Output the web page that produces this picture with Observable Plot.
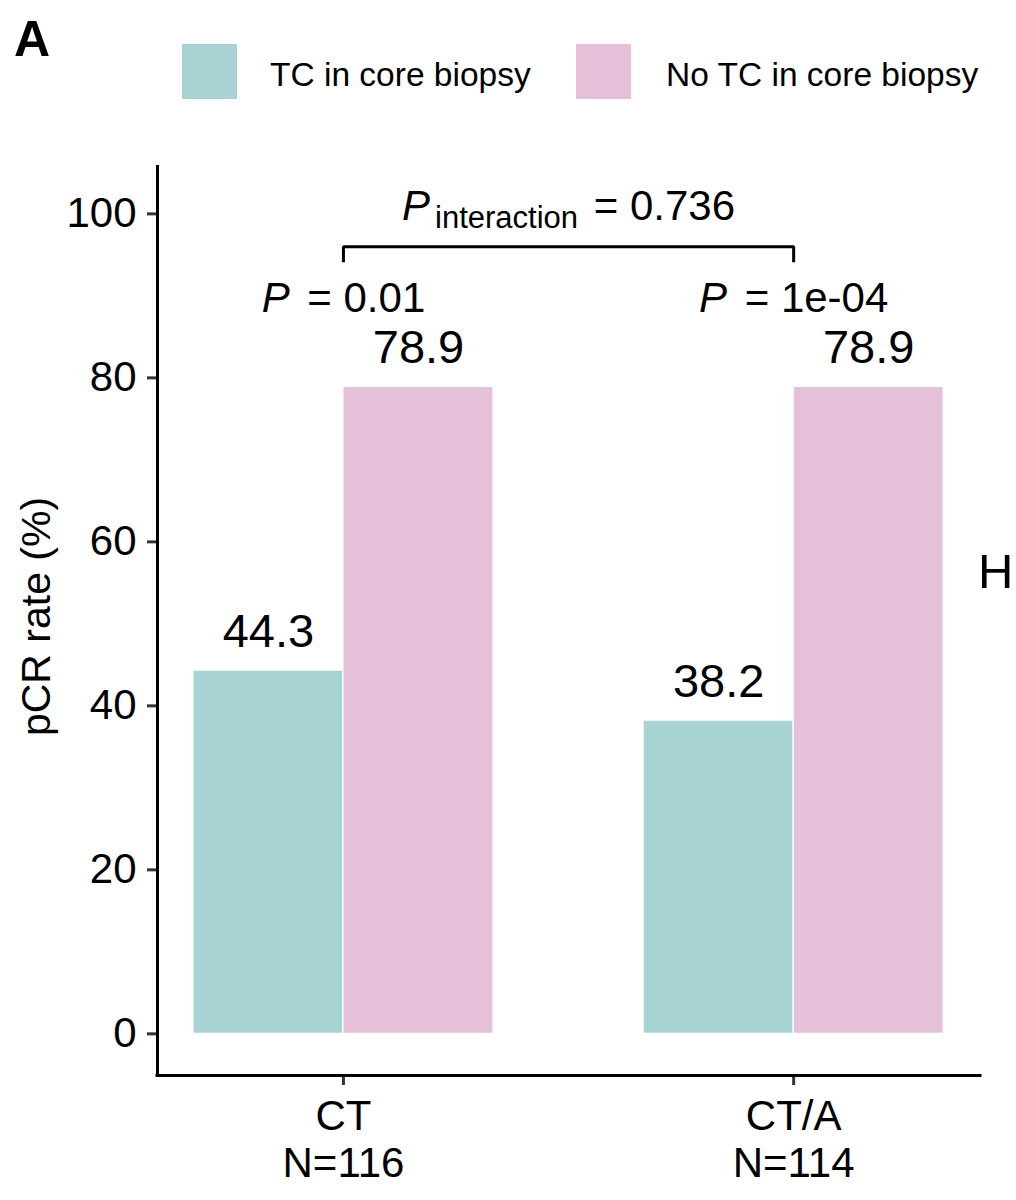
<!DOCTYPE html>
<html>
<head>
<meta charset="utf-8">
<script src="https://cdn.jsdelivr.net/npm/d3@7"></script>
<script src="https://cdn.jsdelivr.net/npm/@observablehq/plot@0.6"></script>
<style>
  html, body { margin: 0; padding: 0; background: #fff; }
  body { font-family: "Liberation Sans", Arial, sans-serif; color: #000; }
  #wrap { position: relative; width: 1016px; height: 1200px; overflow: hidden; background: #fff; }
  #header { position: relative; width: 1016px; height: 130px; }
  .abs { position: absolute; white-space: nowrap; line-height: 1; }
  #panel { left: 14px; top: 14px; font-size: 50px; font-weight: bold; }
  .sw { position: absolute; top: 44px; width: 55px; height: 55px; }
  .lt { font-size: 33.5px; top: 57.5px; }
  #edge { left: 978px; top: 547px; font-size: 49px; }
  #chart svg { display: block; }
</style>
</head>
<body>
<div id="wrap">
  <div id="header">
    <div id="panel" class="abs">A</div>
  </div>
  <div id="chart"></div>
  <div id="edge" class="abs">H</div>
</div>
<script>
// ---- data ----
const groups = ["CT", "CT/A"];
const groupN = [116, 114];
const series = ["TC in core biopsy", "No TC in core biopsy"];
const tcRates = [44.3, 38.2];
const noTcRates = [78.9, 78.9];
const pValues = ["0.01", "1e-04"];
const pInteraction = "0.736";
const seriesColors = ["#A8D3D5", "#E4C0D9"];
const yTicks = [0, 20, 40, 60, 80, 100];
const yLabel = "pCR rate (%)";

// ---- layout / annotation settings ----
const barW = 1 / 3;
const xDomain = [0.587, 2.415];
const yDomain = [-5.08, 105.9];
const pLabelLevel = 88;
const bracketTop = 96;
const bracketFoot = 94.1;
const interactionLevel = 99.2;
const font = "Liberation Sans, Arial, sans-serif";

// legend (HTML, above the svg)
const header = document.getElementById("header");
const swLeft = [182, 576], txtLeft = [270, 666];
series.forEach((s, k) => {
  const sw = document.createElement("div");
  sw.className = "sw";
  sw.style.left = swLeft[k] + "px";
  sw.style.background = seriesColors[k];
  header.appendChild(sw);
  const t = document.createElement("div");
  t.className = "abs lt";
  t.style.left = txtLeft[k] + "px";
  t.textContent = s;
  header.appendChild(t);
});

// table built from arrays
const rows = [];
groups.forEach((g, i) => {
  [tcRates[i], noTcRates[i]].forEach((v, k) => {
    const x1 = (i + 1) + (k - 1) * barW;
    rows.push({group: g, gi: i + 1, series: series[k], value: v, x1, x2: x1 + barW});
  });
});
const groupRows = groups.map((g, i) => ({group: g, gi: i + 1, p: pValues[i]}));
const bracket = [
  {x: 1, y: bracketFoot}, {x: 1, y: bracketTop},
  {x: groups.length, y: bracketTop}, {x: groups.length, y: bracketFoot}
];

const chart = Plot.plot({
  width: 1016,
  height: 1070,
  marginTop: 35,
  marginBottom: 125,
  marginLeft: 157,
  marginRight: 36,
  style: {fontFamily: font, background: "white", color: "black"},
  x: {type: "linear", domain: xDomain},
  y: {domain: yDomain},
  color: {domain: series, range: seriesColors},
  marks: [
    Plot.rectY(rows, {x1: "x1", x2: "x2", y1: 0, y2: "value", fill: "series", stroke: "white", strokeWidth: 1.2}),
    Plot.text(rows, {x: d => d.x1 + barW / 2, y: "value", text: d => d.value.toFixed(1),
      dy: -24, lineAnchor: "bottom", fontSize: 47, fill: "black"}),
    Plot.text(groupRows, {x: "gi", y: pLabelLevel, text: d => "P = " + d.p,
      lineAnchor: "bottom", fontSize: 42, fill: "black"}),
    Plot.line(bracket, {x: "x", y: "y", stroke: "black", strokeWidth: 3,
      strokeLinejoin: "miter", strokeLinecap: "butt"}),
    Plot.text([pInteraction], {x: (1 + groups.length) / 2, y: interactionLevel,
      text: d => "P interaction = " + d, lineAnchor: "bottom", fontSize: 42, fill: "black"}),
    Plot.axisY({ticks: yTicks, tickSize: 10, tickPadding: 11, fontSize: 42,
      stroke: "#333", strokeWidth: 3, fill: "black", label: null}),
    Plot.axisX({ticks: [1, 2], tickFormat: d => groups[d - 1] + "\nN=" + groupN[d - 1],
      tickSize: 10, tickPadding: 10, fontSize: 42, lineHeight: 1.14,
      stroke: "#333", strokeWidth: 3, fill: "black", label: null}),
    Plot.ruleX([xDomain[0]], {stroke: "black", strokeWidth: 3}),
    Plot.ruleY([yDomain[0]], {stroke: "black", strokeWidth: 3, strokeLinecap: "square"}),
    Plot.text([yLabel], {frameAnchor: "left", rotate: -90, dx: -121, dy: -4, text: d => d,
      fontSize: 41, textAnchor: "middle", lineAnchor: "middle", fill: "black"})
  ]
});
document.getElementById("chart").appendChild(chart);

// rich text: italic P and subscript
chart.querySelectorAll("text").forEach(t => {
  const s = t.textContent;
  if (s.startsWith("P interaction = ")) {
    const val = s.slice("P interaction = ".length);
    t.textContent = "";
    const a = document.createElementNS("http://www.w3.org/2000/svg", "tspan");
    a.setAttribute("font-style", "italic"); a.textContent = "P";
    const b = document.createElementNS("http://www.w3.org/2000/svg", "tspan");
    b.setAttribute("font-size", "31"); b.setAttribute("dy", "8"); b.setAttribute("dx", "5");
    b.textContent = "interaction";
    const c = document.createElementNS("http://www.w3.org/2000/svg", "tspan");
    c.setAttribute("dy", "-8"); c.setAttribute("dx", "4"); c.textContent = " = " + val;
    t.append(a, b, c);
  } else if (/^P = /.test(s)) {
    const val = s.slice(4);
    t.textContent = "";
    const a = document.createElementNS("http://www.w3.org/2000/svg", "tspan");
    a.setAttribute("font-style", "italic"); a.textContent = "P";
    const c = document.createElementNS("http://www.w3.org/2000/svg", "tspan");
    c.setAttribute("dx", "6"); c.textContent = " = " + val;
    t.append(a, c);
  }
});
</script>
</body>
</html>
